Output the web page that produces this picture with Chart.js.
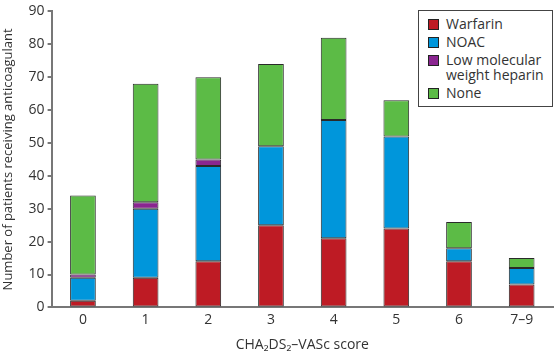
<!DOCTYPE html>
<html lang="en">
<head>
    <meta charset="UTF-8">
    <title>Anticoagulant by CHA2DS2-VASc score</title>
    <script src="https://cdn.jsdelivr.net/npm/chart.js"></script>
    <style>
        body {
            margin: 0;
            padding: 0;
            background: #fff;
            font-family: "Open Sans", sans-serif;
        }

        .wrap {
            position: relative;
            width: 555px;
            height: 358px;
        }

        .legend {
            position: absolute;
            left: 418px;
            top: 10px;
            width: 135px;
            height: 97px;
            border: 1.5px solid #444;
            background: #fff;
            padding: 3px 0 0 9px;
            box-sizing: border-box;
            color: #333;
            font-size: 14px;
            line-height: 15px;
        }

        .legend div {
            display: flex;
            align-items: flex-start;
            margin: 2px 0 3px 0;
        }

        .legend span.sw {
            flex: none;
            width: 9px;
            height: 9px;
            border: 1px solid #222;
            margin: 3px 7px 0 0;
        }
    </style>
</head>
<body>
    <div class="wrap">
        <canvas id="chart" width="555" height="358"></canvas>
        <div class="legend" id="legend"></div>
    </div>

    <script>
        const scores = ['0', '1', '2', '3', '4', '5', '6', '7\u20139'];
        const warfarin = [2, 9, 14, 25, 21, 24, 14, 7];
        const noac = [7, 21, 29, 24, 36, 28, 4, 5];
        const lmwh = [1, 2, 2, 0, 0, 0, 0, 0];
        const none = [24, 36, 25, 25, 25, 11, 8, 3];
        const seriesNames = ['Warfarin', 'NOAC', 'Low molecular weight heparin', 'None'];
        const colours = ['#be1b24', '#0096db', '#8a2590', '#5cbb46'];

        const textColor = '#333';
        const axisColor = '#777';
        const font = { size: 14, family: 'Open Sans' };

        // empty segments (0) are left out so they don't draw a stray outline
        const datasets = [warfarin, noac, lmwh, none].map((values, i) => ({
            label: seriesNames[i],
            data: values.map(v => (v === 0 ? null : v)),
            backgroundColor: colours[i],
            borderColor: '#2a2a2a',
            borderWidth: 1,
            borderSkipped: false,
            categoryPercentage: 1,
            barPercentage: 0.41,
        }));

        new Chart(document.getElementById('chart'), {
            type: 'bar',
            data: { labels: scores, datasets: datasets },
            options: {
                responsive: false,
                animation: false,
                layout: { padding: { top: 9, right: 2, left: 0, bottom: 5 } },
                plugins: {
                    legend: { display: false },
                    tooltip: { enabled: false },
                },
                scales: {
                    x: {
                        stacked: true,
                        grid: { display: false, drawTicks: false },
                        border: { color: axisColor, width: 2 },
                        ticks: { color: textColor, font: font, padding: 4 },
                        title: {
                            display: true,
                            text: 'CHA\u2082DS\u2082\u2013VASc score',
                            color: textColor,
                            font: font,
                            padding: { top: 4, bottom: 0 },
                        },
                    },
                    y: {
                        stacked: true,
                        min: 0,
                        max: 90,
                        ticks: { stepSize: 10, color: textColor, font: font, padding: 3 },
                        grid: { display: true, drawOnChartArea: false, drawTicks: true, tickLength: 4, color: axisColor, lineWidth: 2 },
                        border: { color: axisColor, width: 2 },
                        title: {
                            display: true,
                            text: 'Number of patients receiving anticoagulant',
                            color: textColor,
                            font: { size: 13, family: 'Open Sans' },
                            padding: { top: 0, bottom: 10 },
                        },
                    },
                },
            },
        });

        const legend = document.getElementById('legend');
        seriesNames.forEach((name, i) => {
            const row = document.createElement('div');
            row.innerHTML = `<span class="sw" style="background:${colours[i]}"></span><span>${name}</span>`;
            legend.appendChild(row);
        });
    </script>
</body>
</html>
